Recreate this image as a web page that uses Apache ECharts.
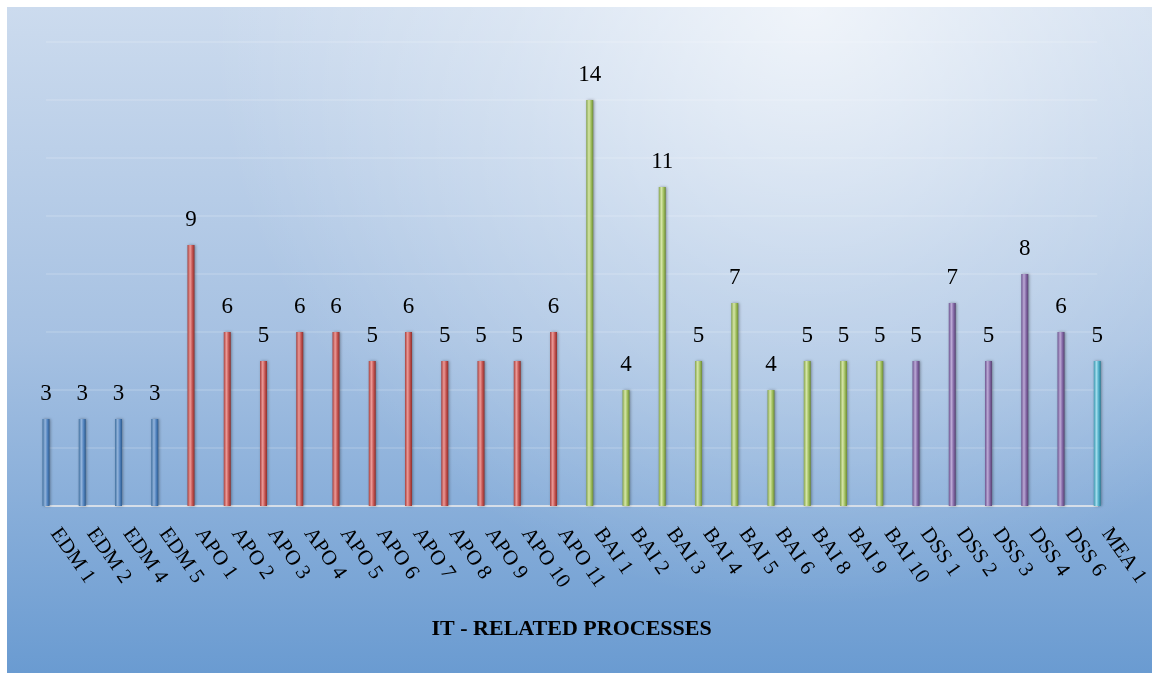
<!DOCTYPE html>
<html>
<head>
<meta charset="utf-8">
<script src="https://cdn.jsdelivr.net/npm/echarts@6/dist/echarts.min.js"></script>
<style>html,body{margin:0;padding:0;background:#fff;}#c{width:1152px;height:673px;}</style>
</head>
<body>
<div id="c"></div>
<script>
const categories = ['EDM 1','EDM 2','EDM 4','EDM 5','APO 1','APO 2','APO 3','APO 4','APO 5','APO 6','APO 7','APO 8','APO 9','APO 10','APO 11','BAI 1','BAI 2','BAI 3','BAI 4','BAI 5','BAI 6','BAI 8','BAI 9','BAI 10','DSS 1','DSS 2','DSS 3','DSS 4','DSS 6','MEA 1'];
const values = [3,3,3,3,9,6,5,6,6,5,6,5,5,5,6,14,4,11,5,7,4,5,5,5,5,7,5,8,6,5];
const groups = ['EDM','EDM','EDM','EDM','APO','APO','APO','APO','APO','APO','APO','APO','APO','APO','APO','BAI','BAI','BAI','BAI','BAI','BAI','BAI','BAI','BAI','DSS','DSS','DSS','DSS','DSS','MEA'];
const axisTitle = 'IT - RELATED PROCESSES';

const palette = {
  EDM: ['#40709f', '#93b4dc', '#4f81bd', '#2d5a8c'],
  APO: ['#a8403d', '#ec9a97', '#c0504d', '#8c302d'],
  BAI: ['#85a44b', '#d6e6a8', '#9bbb59', '#6c8838'],
  DSS: ['#6d5490', '#bcaad6', '#8064a2', '#574371'],
  MEA: ['#3a97b0', '#a3dded', '#4bacc6', '#2b7d94']
};
function grad(g) {
  const p = palette[g];
  return {type: 'linear', x: 0, y: 0, x2: 1, y2: 0, colorStops: [
    {offset: 0, color: p[0]}, {offset: 0.38, color: p[1]}, {offset: 0.72, color: p[2]}, {offset: 1, color: p[3]}
  ]};
}

const chart = echarts.init(document.getElementById('c'), null, {renderer: 'canvas'});
chart.setOption({
  animation: false,
  backgroundColor: '#ffffff',
  graphic: [
    {type: 'rect', left: 7, top: 7, z: -100, shape: {width: 1145, height: 666},
     style: {fill: {type: 'linear', x: 0, y: 0, x2: 0, y2: 1, colorStops: [
       {offset: 0, color: '#ccdbee'}, {offset: 0.5, color: '#a6c1e2'}, {offset: 1, color: '#6a9bd1'}]}}},
    {type: 'rect', left: 7, top: 7, z: -99, shape: {width: 1145, height: 666},
     style: {fill: {type: 'radial', x: 0.7, y: 0, r: 0.9, colorStops: [
       {offset: 0, color: 'rgba(255,255,255,0.7)'}, {offset: 0.5, color: 'rgba(255,255,255,0.3)'}, {offset: 1, color: 'rgba(255,255,255,0)'}]}}}
  ],
  grid: {left: 46, right: 50, top: 42, bottom: 167, containLabel: false},
  xAxis: {
    type: 'category',
    data: categories,
    boundaryGap: false,
    axisLine: {lineStyle: {color: '#d6dee8', width: 2}},
    axisTick: {show: false},
    axisLabel: {rotate: -55, margin: 30, interval: 0, color: '#000', fontFamily: 'Liberation Serif', fontSize: 21, verticalAlign: 'bottom'},
    name: axisTitle,
    nameLocation: 'middle',
    nameGap: 112,
    nameTextStyle: {color: '#000', fontFamily: 'Liberation Serif', fontSize: 22, fontWeight: 'bold'}
  },
  yAxis: {
    type: 'value', min: 0, max: 16, interval: 2,
    axisLabel: {show: false}, axisLine: {show: false}, axisTick: {show: false},
    splitLine: {lineStyle: {color: 'rgba(255,255,255,0.18)', width: 1.5}}
  },
  series: [{
    type: 'bar',
    barWidth: 7,
    data: values.map((v, i) => ({value: v, itemStyle: {color: grad(groups[i])}})),
    itemStyle: {shadowColor: 'rgba(0,0,0,0.35)', shadowBlur: 3, shadowOffsetX: 1},
    label: {show: true, position: 'top', distance: 14, color: '#000', fontFamily: 'Liberation Serif', fontSize: 23}
  }]
});
</script>
</body>
</html>
